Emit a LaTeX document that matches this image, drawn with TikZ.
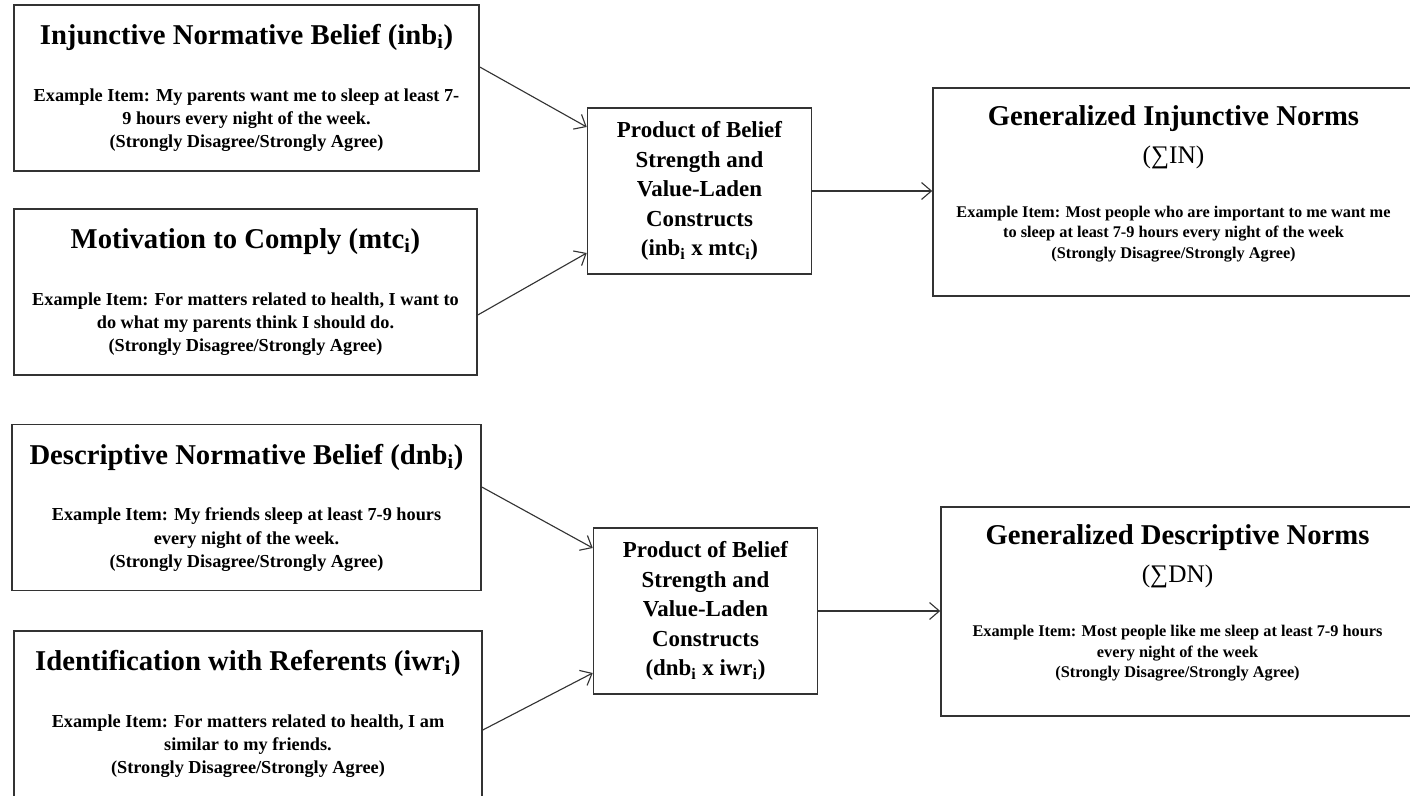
\documentclass[tikz,border=0pt]{standalone}
\usepackage{fontspec}
\setmainfont{Liberation Serif}
\usetikzlibrary{arrows.meta}

\newcommand{\tightlines}{\lineskiplimit=-\maxdimen}
\newcommand{\boxtitle}[1]{{\fontsize{20.4}{24}\selectfont #1}}
\newcommand{\sumline}[1]{{\fontsize{18}{20}\selectfont\mdseries #1}}

\tikzset{
  box/.style={draw=black!80, line width=1.1pt, align=center, inner sep=0pt},
  beliefbox/.style={box, minimum height=4.15cm,
    font=\fontsize{13}{16.4}\selectfont\bfseries\tightlines},
  prodbox/.style={box, minimum width=5.6cm, minimum height=4.15cm,
    font=\fontsize{16.3}{21}\selectfont\bfseries\tightlines},
  normbox/.style={box,
    font=\fontsize{11.6}{14.6}\selectfont\bfseries\tightlines},
  link/.style={draw=black!80, line width=0.8pt,
    -{Straight Barb[length=7pt,width=12pt]}}
}

\begin{document}
\begin{tikzpicture}
  \useasboundingbox (0,0) rectangle (35.25,19.875);

  % injunctive side
  \node[beliefbox, minimum width=11.625cm] (inb) at (6.1625,17.675)
    {\boxtitle{Injunctive Normative Belief (inb\textsubscript{i})}\\[24.1pt]
     Example Item: My parents want me to sleep at least 7-\\
     9 hours every night of the week.\\
     (Strongly Disagree/Strongly Agree)};
  \node[beliefbox, minimum width=11.575cm] (mtc) at (6.1375,12.575)
    {\boxtitle{Motivation to Comply (mtc\textsubscript{i})}\\[24.1pt]
     Example Item: For matters related to health, I want to\\
     do what my parents think I should do.\\
     (Strongly Disagree/Strongly Agree)};
  \node[prodbox] (prodinj) at (17.4875,15.1)
    {Product of Belief\\ Strength and\\ Value-Laden\\ Constructs\\
     (inb\textsubscript{i} x mtc\textsubscript{i})};
  \node[normbox, minimum width=12.025cm, minimum height=5.2cm] (gin) at (29.3375,15.075)
    {\boxtitle{Generalized Injunctive Norms}\\[12.4pt]
     \sumline{(∑IN)}\\[23.8pt]
     Example Item: Most people who are important to me want me\\
     to sleep at least 7-9 hours every night of the week\\
     (Strongly Disagree/Strongly Agree)\\
     \phantom{x}};

  % descriptive side
  \node[beliefbox, minimum width=11.725cm] (dnb) at (6.1625,7.1875)
    {\boxtitle{Descriptive Normative Belief (dnb\textsubscript{i})}\\[24.1pt]
     Example Item: My friends sleep at least 7-9 hours\\
     every night of the week.\\
     (Strongly Disagree/Strongly Agree)};
  \node[beliefbox, minimum width=11.7cm] (iwr) at (6.2,2.025)
    {\boxtitle{Identification with Referents (iwr\textsubscript{i})}\\[24.1pt]
     Example Item: For matters related to health, I am\\
     similar to my friends.\\
     (Strongly Disagree/Strongly Agree)};
  \node[prodbox] (proddes) at (17.6375,4.6)
    {Product of Belief\\ Strength and\\ Value-Laden\\ Constructs\\
     (dnb\textsubscript{i} x iwr\textsubscript{i})};
  \node[normbox, minimum width=11.825cm, minimum height=5.225cm] (gdn) at (29.4375,4.5875)
    {\boxtitle{Generalized Descriptive Norms}\\[12.4pt]
     \sumline{(∑DN)}\\[23.8pt]
     Example Item: Most people like me sleep at least 7-9 hours\\
     every night of the week\\
     (Strongly Disagree/Strongly Agree)\\
     \phantom{x}};

  % arrows
  \draw[link] ([yshift=0.525cm]inb.east) -- ([yshift=1.6cm]prodinj.west);
  \draw[link] ([yshift=-0.575cm]mtc.east) -- ([yshift=-1.55cm]prodinj.west);
  \draw[link] (prodinj.east) -- (prodinj.east -| gin.west);
  \draw[link] ([yshift=0.5125cm]dnb.east) -- ([yshift=1.575cm]proddes.west);
  \draw[link] ([yshift=-0.4cm]iwr.east) -- ([yshift=-1.55cm]proddes.west);
  \draw[link] (proddes.east) -- (proddes.east -| gdn.west);
\end{tikzpicture}
\end{document}
